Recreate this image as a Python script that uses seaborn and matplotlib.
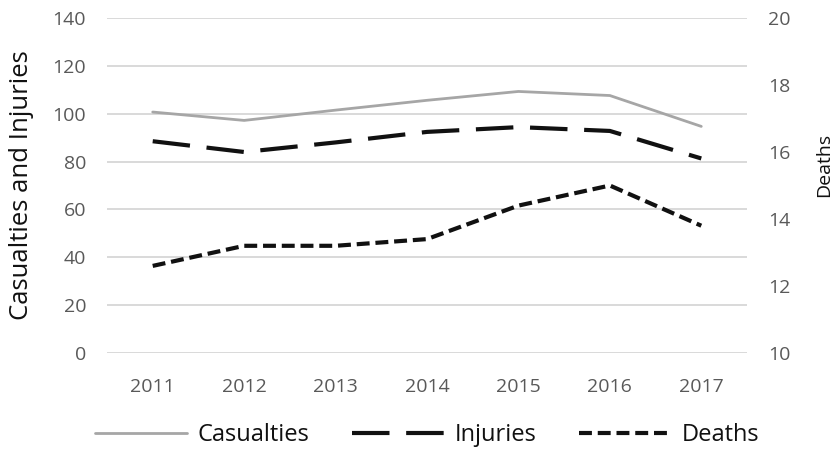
import matplotlib
matplotlib.use("Agg")
import matplotlib.pyplot as plt
import seaborn as sns
import pandas as pd

# Yearly series
years = [2011, 2012, 2013, 2014, 2015, 2016, 2017]
casualties = [100.7, 97.2, 101.5, 105.6, 109.3, 107.6, 94.7]
injuries = [88.5, 84.0, 88.0, 92.4, 94.4, 92.8, 81.3]
deaths = [12.6, 13.2, 13.2, 13.4, 14.4, 15.0, 13.8]

left_ticks = [0, 20, 40, 60, 80, 100, 120, 140]
right_ticks = [10, 12, 14, 16, 18, 20]

df = pd.DataFrame({"Year": years, "Casualties": casualties,
                   "Injuries": injuries, "Deaths": deaths})

sns.set_theme(style="white")
plt.rcParams["font.family"] = ["Open Sans", "DejaVu Sans"]

W, H = 833, 449
fig = plt.figure(figsize=(W / 100, H / 100), dpi=100)
ax = fig.add_axes([107 / W, 1 - 353 / H, 640 / W, 335 / H])
ax2 = ax.twinx()

sns.lineplot(data=df, x="Year", y="Casualties", ax=ax, color="#a6a6a6",
             linewidth=2.0, label="Casualties", legend=False)
sns.lineplot(data=df, x="Year", y="Injuries", ax=ax, color="#111111",
             linewidth=3.0, linestyle=(0, (9.0, 4.0)), label="Injuries",
             legend=False)
sns.lineplot(data=df, x="Year", y="Deaths", ax=ax2, color="#111111",
             linewidth=3.0, linestyle=(0, (3.1, 1.4)), label="Deaths",
             legend=False)

ax.set_xlim(2010.5, 2017.5)
ax.set_ylim(0, 140)
ax2.set_ylim(10, 20)
ax.set_xticks(years)
ax.set_xticklabels([str(y) for y in years])
ax.set_yticks(left_ticks)
ax2.set_yticks(right_ticks)

ax.yaxis.grid(True, color="#d9d9d9", linewidth=1.4)
ax.xaxis.grid(False)
ax2.grid(False)
ax.set_axisbelow(True)

for a in (ax, ax2):
    for s in a.spines.values():
        s.set_visible(False)

ax.tick_params(axis="y", length=0, pad=15, labelsize=14, labelcolor="#595959")
ax.tick_params(axis="x", length=0, pad=18, labelsize=14, labelcolor="#595959")
ax2.tick_params(axis="y", length=0, pad=15, labelsize=14, labelcolor="#595959")

ax.set_xlabel("")
ax.set_ylabel("Casualties and Injuries", fontsize=18.5, color="#111111")
ax.yaxis.set_label_coords(-0.114, 0.5)
ax2.set_ylabel("Deaths", fontsize=14, color="#111111", rotation=90)
ax2.yaxis.set_label_coords(1.106, 0.56)

handles = ax.get_lines()[:2] + ax2.get_lines()[:1]
labels = ["Casualties", "Injuries", "Deaths"]
fig.legend(handles, labels, loc="center", bbox_to_anchor=(427 / W, 1 - 435 / H),
           ncol=3, frameon=False, fontsize=17, handlelength=3.9,
           handletextpad=0.45, columnspacing=1.8, labelcolor="#111111")

fig.savefig("out.png", dpi=100)
